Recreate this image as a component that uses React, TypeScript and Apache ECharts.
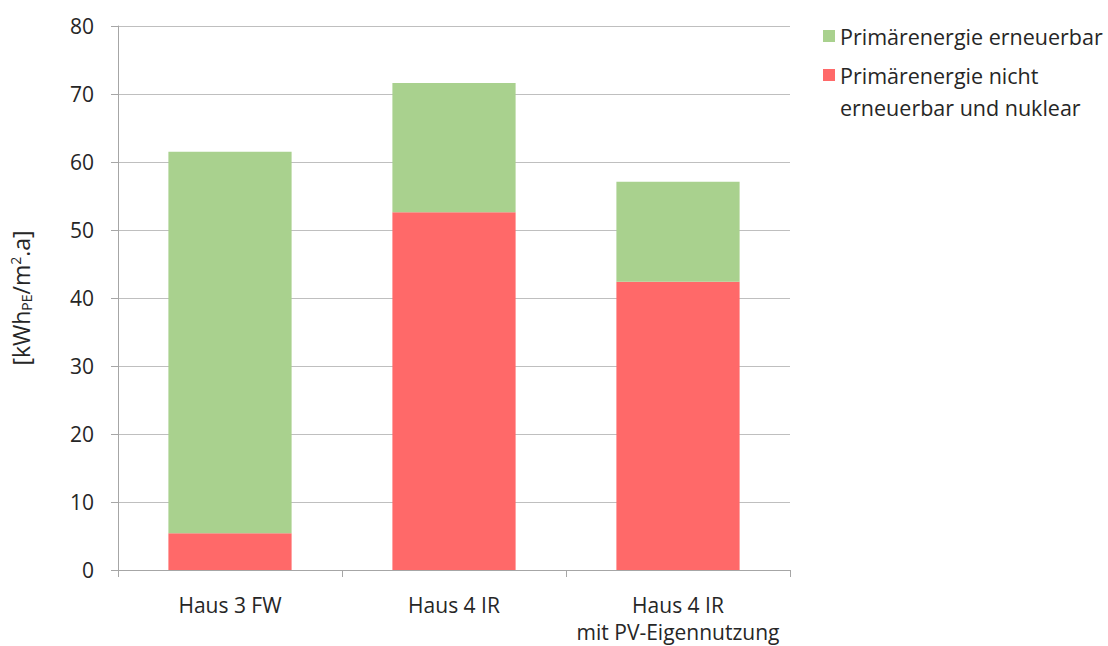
import React, { useEffect, useRef } from "react";
import * as echarts from "echarts";

const categories = ["Haus 3 FW", "Haus 4 IR", "Haus 4 IR\nmit PV-Eigennutzung"];
const nichtErneuerbar = [5.4, 52.6, 42.4];
const erneuerbar = [56.1, 19.0, 14.7];
const seriesNames = ["Primärenergie erneuerbar", "Primärenergie nicht erneuerbar und nuklear"];

export default function App() {
  const ref = useRef<HTMLDivElement>(null);
  useEffect(() => {
    const chart = echarts.init(ref.current!, null, { renderer: "svg" });
    const font = "'Open Sans', 'Noto Sans', sans-serif";
    const txt = "#262626";
    chart.setOption({
      animation: false,
      textStyle: { fontFamily: font, color: txt },
      grid: { left: 117, right: 318, top: 26, bottom: 76 },
      legend: {
        orient: "vertical",
        left: 818,
        top: 15,
        itemWidth: 12,
        itemHeight: 12,
        itemGap: -25,
        icon: "rect",
        data: [seriesNames[0], seriesNames[1]],
        formatter: (n: string) =>
          n === seriesNames[1] ? "\nPrimärenergie nicht\nerneuerbar und nuklear" : n,
        textStyle: { fontSize: 21.5, color: txt, fontFamily: font, lineHeight: 32 },
      },
      xAxis: {
        type: "category",
        data: categories,
        axisLine: { lineStyle: { color: "#a6a6a6" } },
        axisTick: { show: true, length: 7, lineStyle: { color: "#a6a6a6" } },
        axisLabel: {
          fontSize: 21,
          color: txt,
          margin: 21,
          lineHeight: 27,
          fontFamily: font,
          interval: 0,
          hideOverlap: false,
        },
      },
      yAxis: {
        type: "value",
        min: 0,
        max: 80,
        interval: 10,
        name: "[kWh{sub|PE}/m{sup|2}.a]",
        nameLocation: "middle",
        nameGap: 85,
        nameRotate: 90,
        nameTextStyle: {
          fontSize: 23,
          color: txt,
          fontFamily: font,
          rich: {
            sub: { fontSize: 14, verticalAlign: "bottom", padding: [11, 0, 0, 0], color: txt, fontFamily: font },
            sup: { fontSize: 14, verticalAlign: "top", padding: [0, 0, 11, 0], color: txt, fontFamily: font },
          },
        },
        axisLine: { show: true, lineStyle: { color: "#a6a6a6" } },
        axisTick: { show: true, length: 7, lineStyle: { color: "#a6a6a6" } },
        axisLabel: { fontSize: 21, color: txt, margin: 24, fontFamily: font },
        splitLine: { lineStyle: { color: "#bfbfbf" } },
      },
      series: [
        {
          name: seriesNames[1],
          type: "bar",
          stack: "total",
          data: nichtErneuerbar,
          barWidth: "55%",
          itemStyle: { color: "#ff6969" },
        },
        {
          name: seriesNames[0],
          type: "bar",
          stack: "total",
          data: erneuerbar,
          barWidth: "55%",
          itemStyle: { color: "#a9d18e" },
        },
      ],
    });
    return () => chart.dispose();
  }, []);
  return <div ref={ref} style={{ width: 1108, height: 646, position: "absolute", left: 0, top: 0 }} />;
}
